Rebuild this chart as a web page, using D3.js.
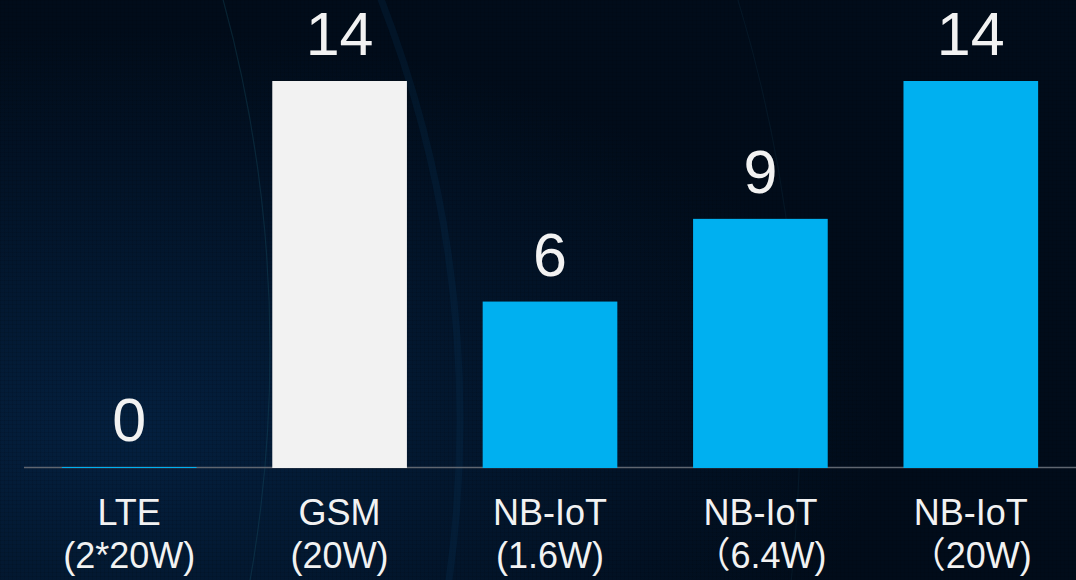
<!DOCTYPE html>
<html>
<head>
<meta charset="utf-8">
<script src="https://cdn.jsdelivr.net/npm/d3@7"></script>
<style>
  html, body { margin: 0; padding: 0; background: #010d1c; }
  svg { display: block; }
</style>
</head>
<body>
<div id="chart"></div>
<script>
// --- data ---
const categories = ["LTE", "GSM", "NB-IoT", "NB-IoT", "NB-IoT"];
const subLabels = ["(2*20W)", "(20W)", "(1.6W)", "（6.4W)", "（20W)"];
const values = [0, 14, 6, 9, 14];
const barColors = ["#00b0f0", "#f2f2f2", "#00b0f0", "#00b0f0", "#00b0f0"];

const width = 1076, height = 580;
const margin = { left: 24, right: 0, top: 81, bottom: 113 };

const svg = d3.select("#chart").append("svg")
    .attr("width", width)
    .attr("height", height);

// --- background ---
const defs = svg.append("defs");
const glow = defs.append("radialGradient").attr("id", "glow")
    .attr("cx", 0.12).attr("cy", 0.75).attr("r", 0.7);
glow.append("stop").attr("offset", 0).attr("stop-color", "#04203f");
glow.append("stop").attr("offset", 1).attr("stop-color", "#010c1a");

const grid = defs.append("pattern").attr("id", "grid")
    .attr("width", 4).attr("height", 4).attr("patternUnits", "userSpaceOnUse");
grid.append("path").attr("d", "M4 0H0V4").attr("fill", "none")
    .attr("stroke", "#000").attr("stroke-opacity", 0.18).attr("stroke-width", 1);

svg.append("rect").attr("width", width).attr("height", height).attr("fill", "url(#glow)");
svg.append("rect").attr("width", width).attr("height", height).attr("fill", "url(#grid)");

// faint arcs in the backdrop
const arcs = [
    { cx: -1057, cy: 350, r: 1327, color: "#1b5a6e", op: 0.3, w: 1.2 },
    { cx: -700, cy: 420, r: 1160, color: "#0a3a66", op: 0.2, w: 7 },
    { cx: -650, cy: 420, r: 1450, color: "#1a4a60", op: 0.18, w: 1.2 }
];
svg.append("g").selectAll("circle").data(arcs).join("circle")
    .attr("cx", d => d.cx).attr("cy", d => d.cy).attr("r", d => d.r)
    .attr("fill", "none")
    .attr("stroke", d => d.color)
    .attr("stroke-opacity", d => d.op)
    .attr("stroke-width", d => d.w);

// --- scales ---
const x = d3.scaleBand()
    .domain(d3.range(categories.length))
    .range([margin.left, width - margin.right])
    .paddingInner(0.36)
    .paddingOuter(0.18);

const y = d3.scaleLinear()
    .domain([0, 14])
    .range([height - margin.bottom, margin.top]);

const baseY = y(0);

// axis line
svg.append("line")
    .attr("x1", margin.left).attr("x2", width)
    .attr("y1", baseY + 0.5).attr("y2", baseY + 0.5)
    .attr("stroke", "#5f6670").attr("stroke-width", 1.5);

// bars
svg.append("g").selectAll("rect").data(values).join("rect")
    .attr("x", (d, i) => x(i))
    .attr("y", d => y(d))
    .attr("width", x.bandwidth())
    .attr("height", d => baseY - y(d) + 1)
    .attr("fill", (d, i) => barColors[i]);

// value labels
svg.append("g").selectAll("text").data(values).join("text")
    .attr("x", (d, i) => x(i) + x.bandwidth() / 2)
    .attr("y", d => y(d) - 26)
    .attr("text-anchor", "middle")
    .attr("fill", "#f2f2f2")
    .attr("font-family", "'Liberation Sans', Arial, sans-serif")
    .attr("font-size", 61)
    .text(d => d);

// category labels
const lab = svg.append("g").selectAll("text").data(categories).join("text")
    .attr("text-anchor", "middle")
    .attr("fill", "#f2f2f2")
    .attr("font-family", "'Liberation Sans', Arial, 'Noto Sans CJK SC', sans-serif")
    .attr("font-size", 36);

lab.append("tspan")
    .attr("x", (d, i) => x(i) + x.bandwidth() / 2)
    .attr("y", baseY + 58)
    .text(d => d);

lab.append("tspan")
    .attr("x", (d, i) => x(i) + x.bandwidth() / 2)
    .attr("y", baseY + 101)
    .text((d, i) => subLabels[i]);
</script>
</body>
</html>
